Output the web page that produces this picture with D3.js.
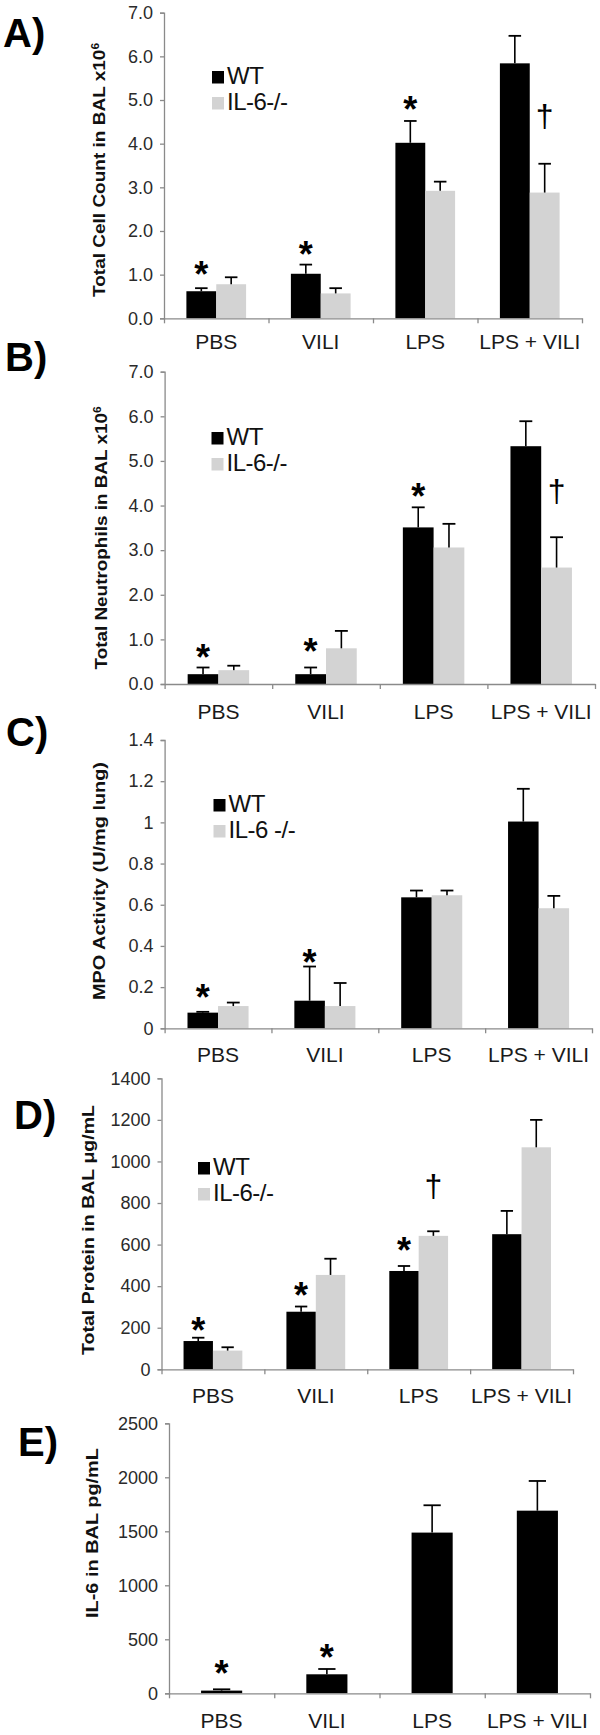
<!DOCTYPE html>
<html>
<head>
<meta charset="utf-8">
<script src="https://cdn.jsdelivr.net/npm/d3@7"></script>
<style>
  html, body { margin: 0; padding: 0; background: #fff; }
  svg { display: block; }
  text { font-family: "Liberation Sans", Arial, sans-serif; }
</style>
</head>
<body>
<svg id="chart" width="600" height="1735"></svg>
<script>
// ---------------- DATA ----------------
const categories = ["PBS", "VILI", "LPS", "LPS + VILI"];
const seriesKeys = ["WT", "KO"];

// Panel A: Total Cell Count in BAL x10^6
const aWT = [0.62, 1.02, 4.02, 5.84];
const aWTsd = [0.07, 0.21, 0.50, 0.63];
const aKO = [0.78, 0.57, 2.92, 2.88];
const aKOsd = [0.16, 0.12, 0.21, 0.66];
const aTicks = [0, 1, 2, 3, 4, 5, 6, 7];
const aTickLabels = ["0.0", "1.0", "2.0", "3.0", "4.0", "5.0", "6.0", "7.0"];
const aLegend = ["WT", "IL-6-/-"];
const aMarks = [["PBS", "WT", "*", 1.18], ["VILI", "WT", "*", 1.64], ["LPS", "WT", "*", 4.96], ["LPS + VILI", "KO", "†", 4.58]];

// Panel B: Total Neutrophils in BAL x10^6
const bWT = [0.22, 0.22, 3.51, 5.33];
const bWTsd = [0.15, 0.15, 0.45, 0.56];
const bKO = [0.31, 0.80, 3.06, 2.61];
const bKOsd = [0.10, 0.39, 0.53, 0.68];
const bTicks = [0, 1, 2, 3, 4, 5, 6, 7];
const bTickLabels = ["0.0", "1.0", "2.0", "3.0", "4.0", "5.0", "6.0", "7.0"];
const bLegend = ["WT", "IL-6-/-"];
const bMarks = [["PBS", "WT", "*", 0.76], ["VILI", "WT", "*", 0.90], ["LPS", "WT", "*", 4.38], ["LPS + VILI", "KO", "†", 4.27]];

// Panel C: MPO Activity (U/mg lung)
const cWT = [0.076, 0.134, 0.636, 1.004];
const cWTsd = [0.004, 0.166, 0.033, 0.159];
const cKO = [0.108, 0.108, 0.646, 0.583];
const cKOsd = [0.017, 0.112, 0.023, 0.060];
const cTicks = [0, 0.2, 0.4, 0.6, 0.8, 1.0, 1.2, 1.4];
const cTickLabels = ["0", "0.2", "0.4", "0.6", "0.8", "1", "1.2", "1.4"];
const cLegend = ["WT", "IL-6 -/-"];
const cMarks = [["PBS", "WT", "*", 0.186], ["VILI", "WT", "*", 0.356]];

// Panel D: Total Protein in BAL ug/mL
const dWT = [136, 277, 473, 650];
const dWTsd = [16, 25, 24, 112];
const dKO = [90, 454, 642, 1068];
const dKOsd = [16, 78, 22, 132];
const dTicks = [0, 200, 400, 600, 800, 1000, 1200, 1400];
const dTickLabels = ["0", "200", "400", "600", "800", "1000", "1200", "1400"];
const dLegend = ["WT", "IL-6-/-"];
const dMarks = [["PBS", "WT", "*", 224], ["VILI", "WT", "*", 393], ["LPS", "WT", "*", 606], ["LPS", "KO", "†", 871]];

// Panel E: IL-6 in BAL pg/mL (WT only)
const eWT = [25, 176, 1488, 1691];
const eWTsd = [12, 49, 253, 275];
const eTicks = [0, 500, 1000, 1500, 2000, 2500];
const eTickLabels = ["0", "500", "1000", "1500", "2000", "2500"];
const eMarks = [["PBS", "WT", "*", 253], ["VILI", "WT", "*", 401]];

// ---------------- LAYOUT / STYLE ----------------
const colors = { WT: "#000000", KO: "#d3d3d3" };
const axisColor = "#8a8a8a";

const panels = [
  { letter: "A)", title: ["Total Cell Count in BAL x10", "6"], wt: aWT, wtsd: aWTsd, ko: aKO, kosd: aKOsd,
    ticks: aTicks, tickLabels: aTickLabels, legend: aLegend, marks: aMarks,
    top: 12.7, bottom: 318.3, left: 164, right: 582, lab: [3, 47], titleX: 105, titleLen: 254, titleCY: 170,
    xlabY: 349, leg: [212, 71] },
  { letter: "B)", title: ["Total Neutrophils in BAL x10", "6"], wt: bWT, wtsd: bWTsd, ko: bKO, kosd: bKOsd,
    ticks: bTicks, tickLabels: bTickLabels, legend: bLegend, marks: bMarks,
    top: 371.7, bottom: 684, left: 164.6, right: 595, lab: [5, 371], titleX: 107, titleLen: 263, titleCY: 538,
    xlabY: 719, leg: [211.5, 432] },
  { letter: "C)", title: ["MPO Activity (U/mg lung)"], wt: cWT, wtsd: cWTsd, ko: cKO, kosd: cKOsd,
    ticks: cTicks, tickLabels: cTickLabels, legend: cLegend, marks: cMarks,
    top: 740, bottom: 1028.3, left: 164.6, right: 592, lab: [6, 746], titleX: 105, titleLen: 238, titleCY: 881,
    xlabY: 1062, leg: [213.5, 799] },
  { letter: "D)", title: ["Total Protein in BAL μg/mL"], wt: dWT, wtsd: dWTsd, ko: dKO, kosd: dKOsd,
    ticks: dTicks, tickLabels: dTickLabels, legend: dLegend, marks: dMarks,
    top: 1078.3, bottom: 1369.3, left: 161.5, right: 573, lab: [14, 1129], titleX: 94, titleLen: 250, titleCY: 1230,
    xlabY: 1403, leg: [198, 1162] },
  { letter: "E)", title: ["IL-6 in BAL pg/mL"], wt: eWT, wtsd: eWTsd, ko: null, kosd: null,
    ticks: eTicks, tickLabels: eTickLabels, legend: null, marks: eMarks,
    top: 1423.3, bottom: 1693.3, left: 169, right: 590, lab: [18, 1456], titleX: 98, titleLen: 170, titleCY: 1533,
    xlabY: 1728, leg: null }
];

const svg = d3.select("#chart");

panels.forEach(p => {
  const g = svg.append("g");
  const y = d3.scaleLinear()
    .domain([p.ticks[0], p.ticks[p.ticks.length - 1]])
    .range([p.bottom, p.top]);
  const x = d3.scaleBand().domain(categories).range([p.left, p.right]).paddingInner(0).paddingOuter(0);
  const keys = p.ko ? seriesKeys : ["WT"];
  const x1 = d3.scaleBand().domain(keys).range([0, x.bandwidth()])
    .paddingInner(0).paddingOuter(p.ko ? 0.75 : 0.78);

  const rows = categories.map((c, i) => ({
    cat: c,
    WT: p.wt[i], WTsd: p.wtsd[i],
    KO: p.ko ? p.ko[i] : null, KOsd: p.ko ? p.kosd[i] : null
  }));

  // bars
  keys.forEach(k => {
    g.selectAll(null).data(rows).enter().append("rect")
      .attr("x", d => x(d.cat) + x1(k))
      .attr("y", d => y(d[k]))
      .attr("width", x1.bandwidth())
      .attr("height", d => y(0) - y(d[k]))
      .attr("fill", colors[k]);
  });

  // error bars (upper only)
  const capW = x1.bandwidth() * 0.42;
  keys.forEach(k => {
    const eb = g.selectAll(null).data(rows).enter().append("g");
    eb.append("line")
      .attr("x1", d => x(d.cat) + x1(k) + x1.bandwidth() / 2)
      .attr("x2", d => x(d.cat) + x1(k) + x1.bandwidth() / 2)
      .attr("y1", d => y(d[k]))
      .attr("y2", d => y(d[k] + d[k + "sd"]))
      .attr("stroke", "#000").attr("stroke-width", 1.6);
    eb.append("line")
      .attr("x1", d => x(d.cat) + x1(k) + x1.bandwidth() / 2 - capW / 2)
      .attr("x2", d => x(d.cat) + x1(k) + x1.bandwidth() / 2 + capW / 2)
      .attr("y1", d => y(d[k] + d[k + "sd"]))
      .attr("y2", d => y(d[k] + d[k + "sd"]))
      .attr("stroke", "#000").attr("stroke-width", 1.8);
  });

  // y axis
  const yAxis = d3.axisLeft(y).tickValues(p.ticks).tickSize(4).tickPadding(7)
    .tickFormat((d, i) => p.tickLabels[i]);
  const ya = g.append("g").attr("transform", `translate(${p.left},0)`).call(yAxis);
  ya.select(".domain").attr("stroke", axisColor).attr("stroke-width", 1.3);
  ya.selectAll(".tick line").attr("stroke", axisColor).attr("stroke-width", 1.3);
  ya.selectAll(".tick text").attr("fill", "#2a2a2a").style("font-size", "18px")
    .style("font-family", "'Liberation Sans', Arial, sans-serif");

  // x axis: baseline with ticks at category boundaries
  const xb = d3.scaleLinear().domain([0, categories.length]).range([p.left, p.right]);
  const xAxis = d3.axisBottom(xb).tickValues(d3.range(categories.length + 1)).tickSize(5)
    .tickSizeOuter(0).tickFormat("");
  const xa = g.append("g").attr("transform", `translate(0,${p.bottom})`).call(xAxis);
  xa.select(".domain").attr("stroke", axisColor).attr("stroke-width", 1.3);
  xa.selectAll(".tick line").attr("stroke", axisColor).attr("stroke-width", 1.3);

  // category labels
  g.selectAll(null).data(categories).enter().append("text")
    .attr("x", d => x(d) + x.bandwidth() / 2)
    .attr("y", p.xlabY)
    .attr("text-anchor", "middle")
    .attr("fill", "#1a1a1a")
    .style("font-size", "21px")
    .text(d => d);

  // y title (rotated)
  const t = g.append("text")
    .attr("transform", `translate(${p.titleX},${p.titleCY}) rotate(-90)`)
    .attr("text-anchor", "middle")
    .attr("fill", "#111")
    .style("font-size", "16px")
    .style("font-weight", "bold")
    .attr("textLength", p.titleLen)
    .attr("lengthAdjust", "spacingAndGlyphs");
  t.append("tspan").text(p.title[0]);
  if (p.title[1]) t.append("tspan").attr("dy", -6).style("font-size", "10px").text(p.title[1]);

  // panel letter
  g.append("text")
    .attr("x", p.lab[0]).attr("y", p.lab[1])
    .attr("fill", "#000")
    .style("font-size", "40px").style("font-weight", "bold")
    .text(p.letter);

  // legend
  if (p.legend) {
    const lg = g.append("g").attr("transform", `translate(${p.leg[0]},${p.leg[1]})`);
    seriesKeys.forEach((k, i) => {
      lg.append("rect").attr("x", 0).attr("y", i * 26).attr("width", 12).attr("height", 12.5)
        .attr("fill", colors[k]);
      lg.append("text").attr("x", 15).attr("y", i * 26 + 13)
        .attr("fill", "#111").style("font-size", "24px")
        .style("letter-spacing", "-0.5px")
        .text(p.legend[i]);
    });
  }

  // significance markers
  g.selectAll(null).data(p.marks).enter().append("text")
    .attr("x", d => x(d[0]) + x1(d[1]) + x1.bandwidth() / 2)
    .attr("y", d => y(d[3]) + (d[2] === "*" ? 20 : 9))
    .attr("text-anchor", "middle")
    .attr("fill", "#000")
    .style("font-size", d => d[2] === "*" ? "36px" : "32px")
    .style("font-weight", d => d[2] === "*" ? "bold" : "normal")
    .text(d => d[2]);
});
</script>
</body>
</html>
